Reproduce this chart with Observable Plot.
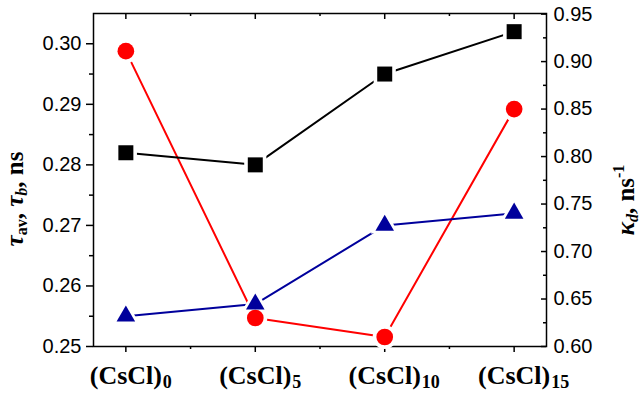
<!DOCTYPE html>
<html><head><meta charset="utf-8">
<script src="https://cdn.jsdelivr.net/npm/d3@7"></script>
<script src="https://cdn.jsdelivr.net/npm/@observablehq/plot@0.6"></script>
<style>body{margin:0;background:#fff;} #chart svg{display:block;}</style>
</head><body><div id="chart"></div>
<script>
const categories = ["(CsCl)", "(CsCl)", "(CsCl)", "(CsCl)"];
const subscripts = ["0", "5", "10", "15"];
const tauAv = [0.282, 0.280, 0.295, 0.302];   // black squares, left axis
const tauB = [0.255, 0.257, 0.270, 0.272];    // blue triangles, left axis
const kappaD = [0.911, 0.630, 0.610, 0.850];  // red circles, right axis
const leftTicks = [0.25, 0.26, 0.27, 0.28, 0.29, 0.30];
const leftMinor = [0.255, 0.265, 0.275, 0.285, 0.295];
const rightTicks = [0.60, 0.65, 0.70, 0.75, 0.80, 0.85, 0.90, 0.95];
const rightMinor = [0.625, 0.675, 0.725, 0.775, 0.825, 0.875, 0.925];
const catTicks = [0, 1, 2, 3];
const midTicks = [0.5, 1.5, 2.5];

const W = 641, H = 401, mL = 93, mR = 95, mT = 13, mB = 55;
const plotW = W - mL - mR, plotH = H - mT - mB;
const leftTop = 0.3049;
const toLeft = v => 0.25 + (v - 0.60) * (leftTop - 0.25) / 0.35;
const fromLeft = v => 0.60 + (v - 0.25) * 0.35 / (leftTop - 0.25);

const rows = catTicks.map(i => ({i, tauAv: tauAv[i], tauB: tauB[i], kappaD: kappaD[i]}));
const blue = "#00009c", red = "#ff0000";
const serif = "'Liberation Serif', 'Times New Roman', serif";

const plot = Plot.plot({
  width: W, height: H,
  marginLeft: mL, marginRight: mR, marginTop: mT, marginBottom: mB,
  style: {fontFamily: "'Liberation Sans', Arial, sans-serif", fontSize: "20px", background: "white", color: "black", overflow: "visible"},
  x: {type: "linear", domain: [-0.25, 3.25], label: null},
  y: {domain: [0.25, 0.305], label: null},
  marks: [
    // left axis
    Plot.axisY(leftTicks, {anchor: "left", tickSize: 7, tickPadding: 5, tickFormat: d => d.toFixed(2), strokeWidth: 1.5, fontSize: 20, label: null}),
    Plot.axisY(leftMinor, {anchor: "left", tickSize: 4, tickFormat: () => "", strokeWidth: 1.5, label: null}),
    // right axis (kappa)
    Plot.axisY(rightTicks.map(toLeft), {anchor: "right", tickSize: 0, tickPadding: 7, tickFormat: d => fromLeft(d).toFixed(2), fontSize: 20, label: null}),
    Plot.tickY(rightTicks.map(toLeft), {y: d => d, insetLeft: plotW - 5, strokeWidth: 1.5}),
    Plot.tickY(rightMinor.map(toLeft), {y: d => d, insetLeft: plotW - 3, strokeWidth: 1.5}),
    // bottom axis
    Plot.axisX(catTicks, {anchor: "bottom", tickSize: 6, tickPadding: 13, tickFormat: i => categories[i], fontSize: 26, fontWeight: "bold", fontFamily: serif, strokeWidth: 1.5, label: null}),
    Plot.axisX(midTicks, {anchor: "bottom", tickSize: 3, tickFormat: () => "", strokeWidth: 1.5, label: null}),
    Plot.text(catTicks, {x: d => d, frameAnchor: "bottom", dy: 41, dx: 37, textAnchor: "start", text: i => subscripts[i], fontSize: 18, fontWeight: "bold", fontFamily: serif}),
    // top inward ticks
    Plot.tickX(catTicks, {x: d => d, insetBottom: plotH - 6, strokeWidth: 1.5}),
    Plot.tickX(midTicks, {x: d => d, insetBottom: plotH - 3, strokeWidth: 1.5}),
    Plot.frame({strokeWidth: 1.5}),
    // red series (right axis)
    Plot.line(rows, {x: "i", y: d => toLeft(d.kappaD), stroke: red, strokeWidth: 2}),
    Plot.dot(rows, {x: "i", y: d => toLeft(d.kappaD), r: 12, fill: "white", stroke: null}),
    // black series
    Plot.line(rows, {x: "i", y: "tauAv", stroke: "black", strokeWidth: 2}),
    Plot.dot(rows, {x: "i", y: "tauAv", symbol: "square", r: 12.5, fill: "white", stroke: null}),
    // blue series
    Plot.line(rows, {x: "i", y: "tauB", stroke: blue, strokeWidth: 2}),
    Plot.dot(rows, {x: "i", y: "tauB", symbol: "triangle", r: 10.5, fill: "white", stroke: null}),
    // markers
    Plot.dot(rows, {x: "i", y: d => toLeft(d.kappaD), r: 8.35, fill: red, stroke: null}),
    Plot.dot(rows, {x: "i", y: "tauAv", symbol: "square", r: 8.46, fill: "black", stroke: null}),
    Plot.dot(rows, {x: "i", y: "tauB", symbol: "triangle", r: 6.9, fill: blue, stroke: null})
  ]
});

const svg = d3.select(plot);
// left axis title: τav, τb, ns
const lt = svg.append("text")
  .attr("transform", "translate(23,199) rotate(-90)")
  .attr("text-anchor", "middle")
  .attr("font-family", serif).attr("font-weight", "bold").attr("font-size", 25).attr("fill", "black");
lt.append("tspan").attr("font-style", "italic").text("τ");
lt.append("tspan").attr("font-size", 16).attr("dy", 4).text("av");
lt.append("tspan").attr("dy", -4).text(", ");
lt.append("tspan").attr("font-style", "italic").text("τ");
lt.append("tspan").attr("font-size", 16).attr("font-style", "italic").attr("dy", 4).text("b");
lt.append("tspan").attr("dy", -4).text(", ns");

// right axis title: κd, ns-1
const rt = svg.append("text")
  .attr("transform", "translate(634,200) rotate(-90)")
  .attr("text-anchor", "middle")
  .attr("font-family", serif).attr("font-weight", "bold").attr("font-size", 25).attr("fill", "black");
rt.append("tspan").attr("font-style", "italic").text("κ");
rt.append("tspan").attr("font-size", 16).attr("font-style", "italic").attr("dy", 4).text("d");
rt.append("tspan").attr("dy", -4).text(", ns");
rt.append("tspan").attr("font-size", 16).attr("dy", -10).text("-1");

document.getElementById("chart").appendChild(plot);
</script>
</body></html>
